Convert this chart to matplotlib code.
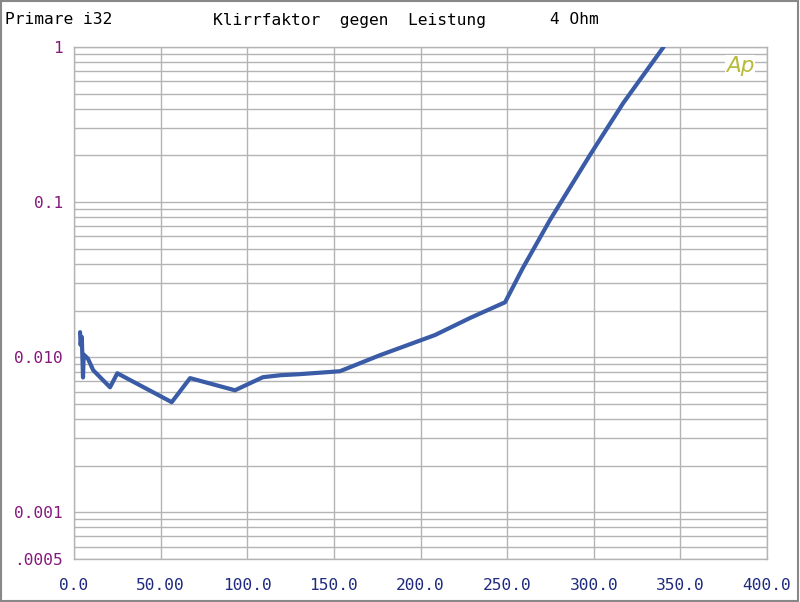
import numpy as np
import matplotlib.pyplot as plt
from matplotlib.ticker import FixedLocator, LogLocator, NullFormatter
from matplotlib.patches import Rectangle

# Leistung (W) vs Klirrfaktor (%)
power = [3.5, 3.8, 4.5, 5.2, 5.6, 8.0, 11.1, 20.8, 25.0, 56.4, 67.0, 92.9,
         109.0, 119.0, 130.0, 153.5, 176.6, 208.4, 228.6, 248.8, 259.0,
         274.7, 297.8, 317.0, 340.3]
thd = [0.0145, 0.0120, 0.0135, 0.0074, 0.0104, 0.0098, 0.00824, 0.0064,
       0.00788, 0.00513, 0.00733, 0.00612, 0.00743, 0.00765, 0.00777,
       0.00812, 0.0103, 0.0139, 0.0179, 0.0226, 0.0375, 0.0766, 0.201,
       0.435, 1.0]

x_ticks = [0, 50, 100, 150, 200, 250, 300, 350, 400]
x_labels = ["0.0", "50.00", "100.0", "150.0", "200.0", "250.0", "300.0",
            "350.0", "400.0"]
y_ticks = [1, 0.1, 0.01, 0.001, 0.0005]
y_labels = ["1", "0.1", "0.010", "0.001", ".0005"]

mono = "DejaVu Sans Mono"
grid_col = "#b4b4b4"

fig = plt.figure(figsize=(8.0, 6.02), dpi=100)
ax = fig.add_axes([0.0925, 0.0714, 0.8663, 0.8506])

ax.plot(power, thd, color="#3a5ba6", lw=3.0, solid_joinstyle="round",
        solid_capstyle="round", zorder=3)

ax.set_yscale("log")
ax.set_xlim(0, 400)
ax.set_ylim(0.0005, 1)

ax.xaxis.set_major_locator(FixedLocator(x_ticks))
ax.set_xticklabels(x_labels)
ax.yaxis.set_major_locator(FixedLocator(y_ticks))
ax.set_yticklabels(y_labels)
ax.yaxis.set_minor_locator(LogLocator(base=10, subs=np.arange(2, 10)))
ax.yaxis.set_minor_formatter(NullFormatter())

ax.grid(True, which="major", color=grid_col, lw=1.0)
ax.grid(True, which="minor", axis="y", color=grid_col, lw=1.0)
ax.tick_params(which="both", length=0)
ax.tick_params(axis="x", pad=14, labelsize=11.7, labelcolor="#1e2a7e")
ax.tick_params(axis="y", pad=8, labelsize=11.7, labelcolor="#86197c")
for lab in ax.get_xticklabels() + ax.get_yticklabels():
    lab.set_family(mono)

for sp in ax.spines.values():
    sp.set_color(grid_col)
    sp.set_linewidth(1.0)

# titles
fig.text(5 / 800, 1 - 20 / 602, "Primare i32", family=mono, fontsize=11.7,
         va="center", ha="left", color="black")
fig.text(213 / 800, 1 - 20 / 602, "Klirrfaktor  gegen  Leistung",
         family=mono, fontsize=11.7, va="center", ha="left", color="black")
fig.text(550 / 800, 1 - 20 / 602, "4 Ohm", family=mono, fontsize=11.7,
         va="center", ha="left", color="black")

# Ap logo
ax.text(740 / 800, 1 - 66 / 602, "Ap", transform=fig.transFigure,
        fontsize=15.5, style="italic", color="#b8ba3c", ha="center",
        va="center", zorder=4,
        bbox=dict(facecolor="white", edgecolor="none", pad=1))

# image frame
fig.patches.append(Rectangle((0.001, 0.001), 0.997, 0.997,
                             transform=fig.transFigure, fill=False,
                             edgecolor="#888888", lw=1.5))

fig.savefig("out.png", dpi=100)
